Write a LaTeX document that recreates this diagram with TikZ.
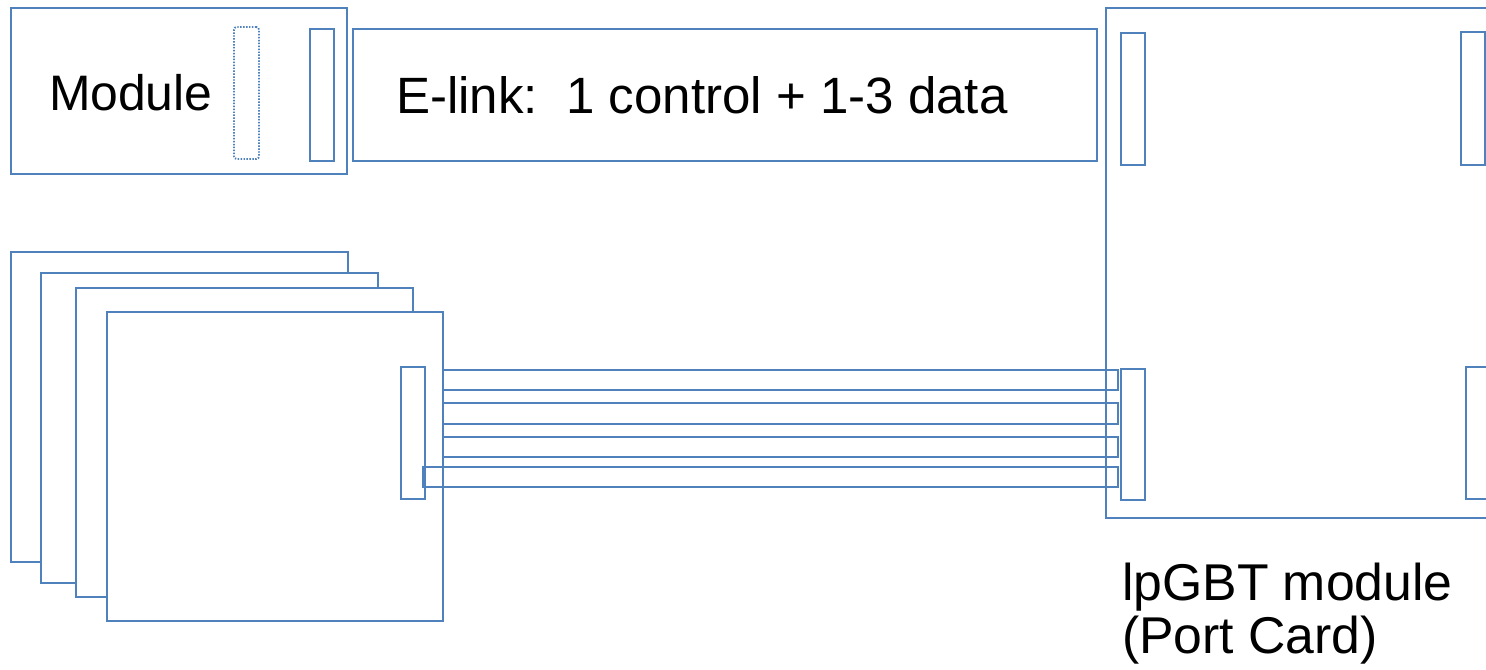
\documentclass[tikz,border=0pt]{standalone}
\usepackage{fontspec}
\setmainfont{Liberation Sans}
\usetikzlibrary{fit}
\definecolor{edge}{RGB}{79,129,189}
\begin{document}
\begin{tikzpicture}[x=0.75pt,y=-0.75pt,
  box/.style={draw=edge,line width=1.6pt,inner sep=0pt,outer sep=0pt,fill=white},
  dotbox/.style={draw=edge,line width=1.4pt,dash pattern=on 1.1pt off 1.1pt,
                 rounded corners=2pt,inner sep=0pt},
  strip/.style={draw=edge,line width=1.6pt},
  label/.style={inner sep=0pt,outer sep=0pt,font=\fontsize{38.3}{39}\selectfont,text=black}]
\useasboundingbox (0,0) rectangle (1486,669);
\clip (0,0) rectangle (1486,669);

% front-end module with its two connectors
\node[box,fit={(11,8) (347,174)}] (module) {};
\node[dotbox,fit={(234,27) (259,159)}] (modslot) {};
\node[box,fit={(310,29) (334,161)}] (modconn) {};
\node[label,anchor=base west,font=\fontsize{37.4}{39}\selectfont] (modtext) at (49,110) {Module};

% e-link bundle
\node[box,fit={(353,29) (1097,161)}] (elink) {};
\node[label,anchor=base west] (elinktext) at (396,113) {E-link:\ \ 1 control + 1-3 data};

% port card with its connectors
\node[box,fit={(1106,8) (1530,518)}] (lpgbt) {};
\node[box,fit={(1121,33) (1145,165)}] (lpA) {};
\node[box,fit={(1461,32) (1485,165)}] (lpB) {};
\node[box,fit={(1121,369) (1145,500)}] (lpC) {};
\node[box,fit={(1466,367) (1520,499)}] (lpD) {};
\node[label,anchor=base west,font=\fontsize{38.8}{39}\selectfont] (lptextA) at (1122,600) {lpGBT module};
\node[label,anchor=base west,font=\fontsize{38.8}{39}\selectfont] (lptextB) at (1122,653) {(Port Card)};

% stack of modules
\node[box,fit={(11,252) (348,562)}] (stackA) {};
\node[box,fit={(41,273) (378,583)}] (stackB) {};
\node[box,fit={(76,288) (413,597)}] (stackC) {};
\node[box,fit={(107,312) (443,621)}] (stackD) {};
\node[box,fit={(401,367) (425,499)}] (stackconn) {};

% flat cables from the stack to the port card
\coordinate (cableend) at ([xshift=-2.25pt]lpC.west);
\draw[strip] (stackD.east |- 0,370) rectangle (cableend |- 0,390);
\draw[strip] (stackD.east |- 0,403) rectangle (cableend |- 0,424);
\draw[strip] (stackD.east |- 0,437) rectangle (cableend |- 0,457);
\draw[strip] ([xshift=-1.5pt]stackconn.east |- 0,467) rectangle (cableend |- 0,487);
\draw[strip] (stackD.north east) -- (stackD.south east);
\draw[strip] (lpgbt.north west) -- (lpgbt.south west);
\end{tikzpicture}
\end{document}
